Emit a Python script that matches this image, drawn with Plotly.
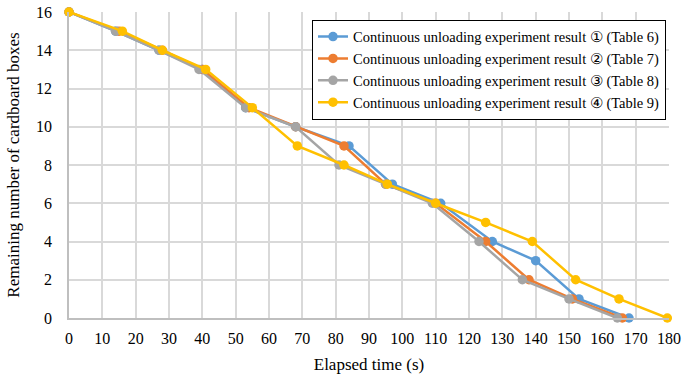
import plotly.graph_objects as go

names = [
    "Continuous unloading experiment result ① (Table 6)",
    "Continuous unloading experiment result ② (Table 7)",
    "Continuous unloading experiment result ③ (Table 8)",
    "Continuous unloading experiment result ④ (Table 9)",
]
colors = ["#5B9BD5", "#ED7D31", "#A5A5A5", "#FFC000"]

t1 = [0, 14, 27, 40, 53, 68, 84, 97, 111.5, 127, 140, 153, 168]
n1 = [16, 15, 14, 13, 11, 10, 9, 7, 6, 4, 3, 1, 0]
t2 = [0, 15, 28, 40, 54, 68, 82.5, 95, 110, 125, 138, 151, 166]
n2 = [16, 15, 14, 13, 11, 10, 9, 7, 6, 4, 2, 1, 0]
t3 = [0, 14, 27, 39, 53, 68, 81, 95, 109, 123, 136, 150, 164.5]
n3 = [16, 15, 14, 13, 11, 10, 8, 7, 6, 4, 2, 1, 0]
t4 = [0, 16, 28, 41, 55, 68.5, 82.5, 95.5, 110, 125, 139, 152, 165, 179.5]
n4 = [16, 15, 14, 13, 11, 9, 8, 7, 6, 5, 4, 2, 1, 0]

xs = [t1, t2, t3, t4]
ys = [n1, n2, n3, n4]

fig = go.Figure()
for x, y, nm, c in zip(xs, ys, names, colors):
    fig.add_trace(go.Scatter(x=x, y=y, name=nm, mode="lines+markers",
                             line=dict(color=c, width=2.5),
                             marker=dict(color=c, size=9.5), cliponaxis=False))

font = "Liberation Serif"
fig.update_layout(
    width=685, height=379,
    margin=dict(l=69, r=16, t=12, b=61, autoexpand=False),
    paper_bgcolor="white", plot_bgcolor="white",
    font=dict(family=font, size=16, color="black"),
    showlegend=True,
    legend=dict(x=0.995, y=0.975, xanchor="right", yanchor="top",
                bgcolor="white", bordercolor="black", borderwidth=1,
                font=dict(family=font, size=14.5), tracegroupgap=0),
    xaxis=dict(range=[0, 180], dtick=10, tick0=0, automargin=False,
               showgrid=True, gridcolor="#D9D9D9", gridwidth=1.5,
               showline=True, linecolor="#BFBFBF", linewidth=1.5,
               zeroline=False, ticks="", tickfont=dict(family=font, size=16),
               ticklabelstandoff=5,
               title=dict(text="Elapsed time (s)", font=dict(family=font, size=17), standoff=12)),
    yaxis=dict(range=[0, 16], dtick=2, tick0=0, automargin=False,
               showgrid=True, gridcolor="#D9D9D9", gridwidth=1.5,
               showline=True, linecolor="#BFBFBF", linewidth=1.5,
               zeroline=False, ticks="", tickfont=dict(family=font, size=16),
               ticklabelstandoff=12,
               title=dict(text="Remaining number of cardboard boxes", font=dict(family=font, size=17), standoff=12)),
)

fig.write_html("out.html", config={"displayModeBar": False},
               post_script="document.body.style.margin='0';document.body.style.padding='0';")
